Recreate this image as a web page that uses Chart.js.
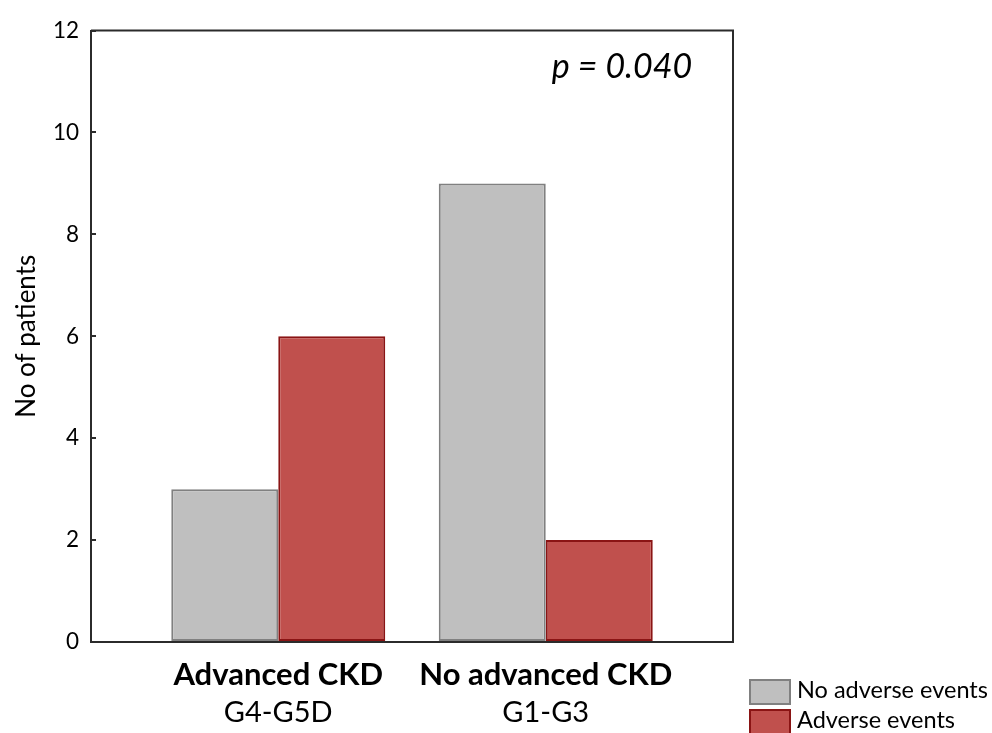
<!DOCTYPE html>
<html>
<head>
<meta charset="utf-8">
<script src="https://cdn.jsdelivr.net/npm/chart.js@4/dist/chart.umd.min.js"></script>
<style>
  html, body { margin: 0; padding: 0; background: #ffffff; }
  #wrap { width: 992px; height: 733px; }
</style>
</head>
<body>
<div id="wrap"><canvas id="c" width="992" height="733"></canvas></div>
<script>
// ---- data ----
const groupLabels = ['Advanced CKD', 'No advanced CKD'];
const groupSubLabels = ['G4-G5D', 'G1-G3'];
const groupPositions = [1, 2];
const seriesNames = ['No adverse events', 'Adverse events'];
const noAdverseEvents = [3, 9];
const adverseEvents = [6, 2];
const yTicks = [0, 2, 4, 6, 8, 10, 12];
const yTitle = 'No of patients';
const pValueText = 'p = 0.040';

const FONT = 'Lato, "Liberation Sans", sans-serif';
const frameColor = '#2b2b2b';

function toPoints(values) {
  return values.map((v, i) => ({ x: groupPositions[i], y: v }));
}

const framePlugin = {
  id: 'frame',
  afterDatasetsDraw(chart) {
    const { ctx, chartArea: a } = chart;
    ctx.save();
    ctx.strokeStyle = frameColor;
    ctx.lineWidth = 2;
    ctx.beginPath();
    ctx.moveTo(a.left, a.top);
    ctx.lineTo(a.right, a.top);
    ctx.lineTo(a.right, a.bottom);
    ctx.lineTo(a.left, a.bottom);
    ctx.stroke();
    ctx.restore();
  }
};

const annotationPlugin = {
  id: 'pvalue',
  afterDraw(chart) {
    const { ctx } = chart;
    ctx.save();
    ctx.font = 'italic 34px ' + FONT;
    ctx.fillStyle = '#000';
    ctx.textAlign = 'center';
    ctx.textBaseline = 'middle';
    ctx.fillText(pValueText, 622, 67);
    ctx.restore();
  }
};

const legendPlugin = {
  id: 'customLegend',
  afterDraw(chart) {
    const { ctx } = chart;
    ctx.save();
    const x0 = 750, y0 = 680, bw = 40, bh = 24, gap = 30;
    chart.data.datasets.forEach((ds, i) => {
      const y = y0 + i * gap;
      ctx.fillStyle = ds.backgroundColor;
      ctx.fillRect(x0, y, bw, bh);
      ctx.strokeStyle = ds.borderColor;
      ctx.lineWidth = 2;
      ctx.strokeRect(x0, y, bw, bh);
      ctx.fillStyle = '#000';
      ctx.font = '23.5px ' + FONT;
      ctx.textAlign = 'left';
      ctx.textBaseline = 'middle';
      ctx.fillText(ds.label, 797, y + bh / 2 - 2);
    });
    ctx.restore();
  }
};

function setGroupTicks(scale) {
  scale.ticks = groupPositions.map(v => ({ value: v }));
}

new Chart(document.getElementById('c'), {
  type: 'bar',
  data: {
    datasets: [
      {
        label: seriesNames[0],
        data: toPoints(noAdverseEvents),
        backgroundColor: '#bfbfbf',
        borderColor: '#808080',
        borderWidth: 2,
        borderSkipped: false
      },
      {
        label: seriesNames[1],
        data: toPoints(adverseEvents),
        backgroundColor: '#c0504d',
        borderColor: '#8a1414',
        borderWidth: 2,
        borderSkipped: false
      }
    ]
  },
  options: {
    responsive: false,
    animation: false,
    events: [],
    categoryPercentage: 0.8,
    barPercentage: 1.0,
    layout: { padding: { top: 25, right: 259, bottom: 0, left: 0 } },
    plugins: {
      legend: { display: false },
      tooltip: { enabled: false },
      title: { display: false }
    },
    scales: {
      x: {
        type: 'linear',
        position: 'bottom',
        offset: false,
        min: 0.3,
        max: 2.7,
        afterBuildTicks: setGroupTicks,
        afterFit(scale) { scale.height = 55; },
        grid: { display: false, drawTicks: false, offset: false },
        border: { display: true, color: frameColor, width: 2 },
        ticks: {
          padding: 17,
          color: '#000',
          font: { family: FONT, size: 31, weight: 'bold', lineHeight: 1 },
          maxRotation: 0,
          autoSkip: false,
          callback(value) {
            const i = groupPositions.indexOf(value);
            return i >= 0 ? groupLabels[i] : '';
          }
        }
      },
      xSub: {
        type: 'linear',
        position: 'bottom',
        offset: false,
        min: 0.3,
        max: 2.7,
        afterBuildTicks: setGroupTicks,
        afterFit(scale) { scale.height = 36; },
        grid: { display: false, drawTicks: false, offset: false },
        border: { display: false },
        ticks: {
          padding: 1,
          color: '#000',
          font: { family: FONT, size: 29, lineHeight: 1 },
          maxRotation: 0,
          autoSkip: false,
          callback(value) {
            const i = groupPositions.indexOf(value);
            return i >= 0 ? groupSubLabels[i] : '';
          }
        }
      },
      y: {
        min: yTicks[0],
        max: yTicks[yTicks.length - 1],
        afterBuildTicks(scale) { scale.ticks = yTicks.map(v => ({ value: v })); },
        afterFit(scale) { scale.width = 91; },
        grid: {
          drawOnChartArea: false,
          drawTicks: true,
          tickLength: -5,
          color: frameColor,
          lineWidth: 2
        },
        border: { display: true, color: frameColor, width: 2 },
        ticks: {
          padding: 17,
          color: '#000',
          font: { family: FONT, size: 22.5 }
        },
        title: {
          display: true,
          text: yTitle,
          color: '#000',
          font: { family: FONT, size: 26 },
          padding: { top: 11, bottom: 0 }
        }
      }
    }
  },
  plugins: [framePlugin, annotationPlugin, legendPlugin]
});
</script>
</body>
</html>
